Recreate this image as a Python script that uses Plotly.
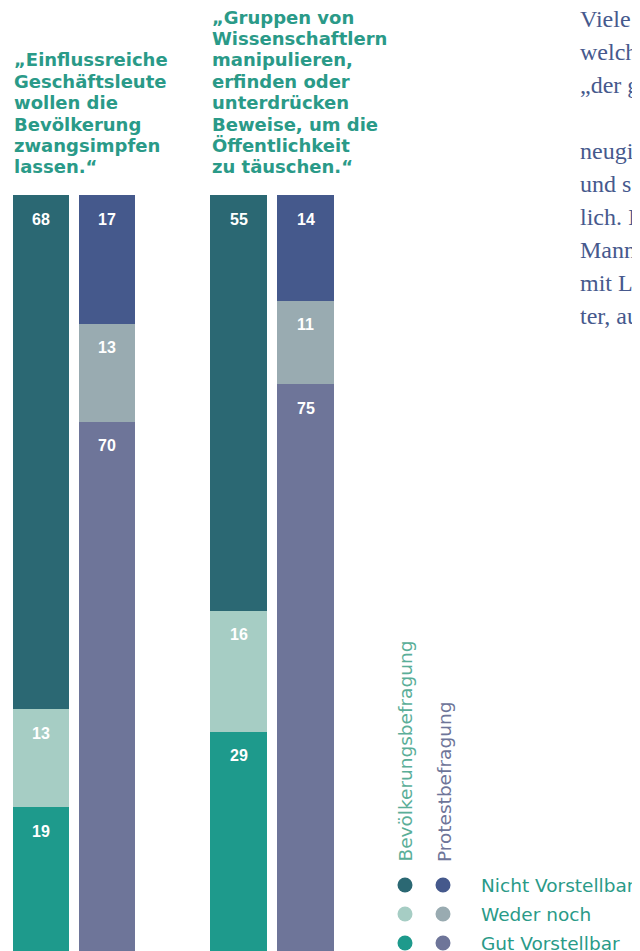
import plotly.graph_objects as go

W, H = 640, 951
OFF = 8  # default page margin of the html body

# data (percent)
groups = ["Bevölkerungsbefragung", "Protestbefragung"]
levels = ["Gut Vorstellbar", "Weder noch", "Nicht Vorstellbar"]
impfen_bev = [19, 13, 68]
impfen_prot = [70, 13, 17]
wiss_bev = [29, 16, 55]
wiss_prot = [75, 11, 14]

title_impfen = ["„Einflussreiche", "Geschäftsleute", "wollen die", "Bevölkerung",
                "zwangsimpfen", "lassen.“"]
title_wiss = ["„Gruppen von", "Wissenschaftlern", "manipulieren,", "erfinden oder",
              "unterdrücken", "Beweise, um die", "Öffentlichkeit", "zu täuschen.“"]

body_lines = ["Viele", "welch", "„der g", "", "neugi", "und s", "lich. I", "Mann", "mit L", "ter, au"]

bev_colors = ["#1e9a8c", "#a6cdc4", "#2b6873"]
prot_colors = ["#6e7599", "#99abb1", "#45598c"]

TEAL = "#2a9a88"
BLUE = "#46598d"


# screen pixel -> paper coords
def px(x):
    return (x - OFF) / W


def py(y):
    return 1 - (y - OFF) / H


fig = go.Figure()

panels = [("x", impfen_bev, impfen_prot), ("x2", wiss_bev, wiss_prot)]
annotations = []
for xa, bev, prot in panels:
    cum_b, cum_p = 0, 0
    for i, lvl in enumerate(levels):
        fig.add_trace(go.Bar(
            x=groups, y=[bev[i], prot[i]], name=lvl, xaxis=xa, yaxis="y",
            marker=dict(color=[bev_colors[i], prot_colors[i]], line=dict(width=0)),
            showlegend=False, hoverinfo="skip",
        ))
        cum_b += bev[i]
        cum_p += prot[i]
        for g, top, val in [(groups[0], cum_b, bev[i]), (groups[1], cum_p, prot[i])]:
            annotations.append(dict(
                x=g, y=top, xref=xa, yref="y", text=str(val), showarrow=False,
                yanchor="middle", yshift=-24,
                font=dict(family="Liberation Sans", size=16, color="white", weight="bold"),
            ))

# titles, one line each, bottom lines aligned
for xpos, lines in [(12, title_impfen), (210, title_wiss)]:
    n = len(lines)
    for i, line in enumerate(lines):
        annotations.append(dict(
            x=px(xpos), y=py(167 - (n - 1 - i) * 21.4), xref="paper", yref="paper",
            text=line, showarrow=False, xanchor="left", yanchor="middle",
            font=dict(family="DejaVu Sans", size=18, color=TEAL, weight="bold"),
        ))

# cropped body text on the right
for i, line in enumerate(body_lines):
    if not line:
        continue
    annotations.append(dict(
        x=px(578), y=py(19 + i * 33), xref="paper", yref="paper", text=line,
        showarrow=False, xanchor="left", yanchor="middle",
        font=dict(family="Liberation Serif", size=24, color=BLUE),
    ))

# legend
annotations.append(dict(
    x=px(405), y=py(864), xref="paper", yref="paper", text="Bevölkerungsbefragung",
    textangle=-90, showarrow=False, xanchor="center", yanchor="bottom",
    font=dict(family="DejaVu Sans", size=18.5, color="#5aae98"),
))
annotations.append(dict(
    x=px(444), y=py(864), xref="paper", yref="paper", text="Protestbefragung",
    textangle=-90, showarrow=False, xanchor="center", yanchor="bottom",
    font=dict(family="DejaVu Sans", size=18.5, color="#6e7599"),
))

shapes = []
leg_rows = list(reversed(levels))
for r, lvl in enumerate(leg_rows):
    yc = 885 + r * 29
    idx = levels.index(lvl)
    for xc, col in [(405, bev_colors[idx]), (443, prot_colors[idx])]:
        shapes.append(dict(
            type="circle", xref="paper", yref="paper",
            x0=px(xc - 7.5), x1=px(xc + 7.5), y0=py(yc + 7.5), y1=py(yc - 7.5),
            fillcolor=col, line=dict(width=0),
        ))
    annotations.append(dict(
        x=px(479), y=py(yc), xref="paper", yref="paper", text=lvl, showarrow=False,
        xanchor="left", yanchor="middle",
        font=dict(family="DejaVu Sans", size=18.5, color=TEAL),
    ))

fig.update_layout(
    width=W, height=H, margin=dict(l=0, r=0, t=0, b=0),
    paper_bgcolor="white", plot_bgcolor="white",
    barmode="stack", bargap=0.14,
    xaxis=dict(domain=[px(8), px(140)], visible=False, range=[-0.5, 1.5]),
    xaxis2=dict(domain=[px(205), px(339)], visible=False, range=[-0.5, 1.5], anchor="y"),
    yaxis=dict(domain=[py(951), py(195)], range=[0, 100], visible=False),
    annotations=annotations, shapes=shapes,
)

fig.write_html("out.html")
